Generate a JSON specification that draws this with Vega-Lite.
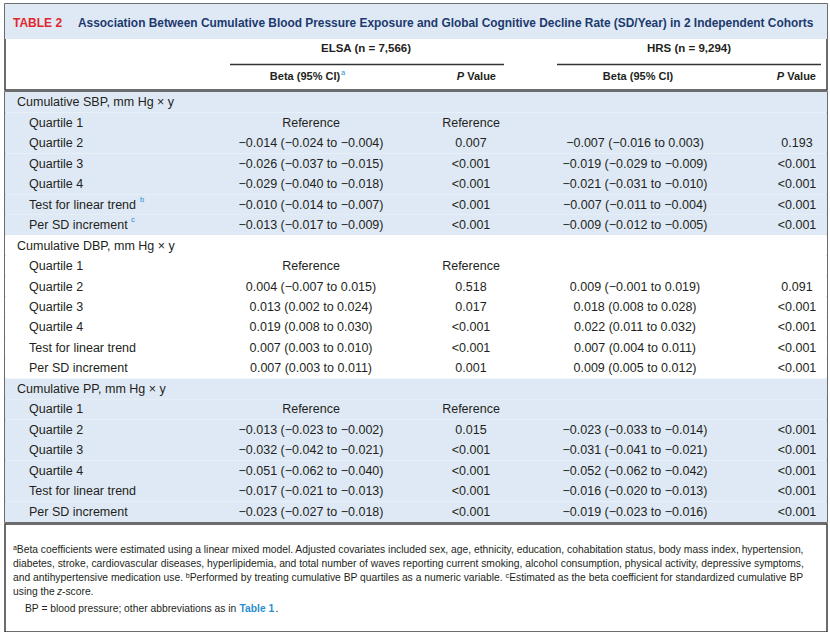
{
  "$schema": "https://vega.github.io/schema/vega-lite/v6.json",
  "background": "white",
  "padding": {"top": 3, "left": 4, "right": 4, "bottom": 5},
  "spacing": 0,
  "config": {
    "view": {"stroke": "#3c3c3c", "strokeWidth": 1.5},
    "axis": {"disable": true},
    "legend": {"disable": true},
    "concat": {"spacing": 0},
    "text": {"font": "Liberation Sans", "fontSize": 12.5, "baseline": "middle", "color": "#231f20"}
  },
  "datasets": {
    "rows": [
      {"row": 0, "section": "SBP", "kind": "head", "label": "Cumulative SBP, mm Hg × y", "eb": "", "ep": "", "hb": "", "hp": ""},
      {"row": 1, "section": "SBP", "kind": "item", "label": "Quartile 1", "eb": "Reference", "ep": "Reference", "hb": "", "hp": ""},
      {"row": 2, "section": "SBP", "kind": "item", "label": "Quartile 2", "eb": "−0.014 (−0.024 to −0.004)", "ep": "0.007", "hb": "−0.007 (−0.016 to 0.003)", "hp": "0.193"},
      {"row": 3, "section": "SBP", "kind": "item", "label": "Quartile 3", "eb": "−0.026 (−0.037 to −0.015)", "ep": "<0.001", "hb": "−0.019 (−0.029 to −0.009)", "hp": "<0.001"},
      {"row": 4, "section": "SBP", "kind": "item", "label": "Quartile 4", "eb": "−0.029 (−0.040 to −0.018)", "ep": "<0.001", "hb": "−0.021 (−0.031 to −0.010)", "hp": "<0.001"},
      {"row": 5, "section": "SBP", "kind": "item", "label": "Test for linear trend", "eb": "−0.010 (−0.014 to −0.007)", "ep": "<0.001", "hb": "−0.007 (−0.011 to −0.004)", "hp": "<0.001", "sup": "b"},
      {"row": 6, "section": "SBP", "kind": "item", "label": "Per SD increment", "eb": "−0.013 (−0.017 to −0.009)", "ep": "<0.001", "hb": "−0.009 (−0.012 to −0.005)", "hp": "<0.001", "sup": "c"},
      {"row": 7, "section": "DBP", "kind": "head", "label": "Cumulative DBP, mm Hg × y", "eb": "", "ep": "", "hb": "", "hp": ""},
      {"row": 8, "section": "DBP", "kind": "item", "label": "Quartile 1", "eb": "Reference", "ep": "Reference", "hb": "", "hp": ""},
      {"row": 9, "section": "DBP", "kind": "item", "label": "Quartile 2", "eb": "0.004 (−0.007 to 0.015)", "ep": "0.518", "hb": "0.009 (−0.001 to 0.019)", "hp": "0.091"},
      {"row": 10, "section": "DBP", "kind": "item", "label": "Quartile 3", "eb": "0.013 (0.002 to 0.024)", "ep": "0.017", "hb": "0.018 (0.008 to 0.028)", "hp": "<0.001"},
      {"row": 11, "section": "DBP", "kind": "item", "label": "Quartile 4", "eb": "0.019 (0.008 to 0.030)", "ep": "<0.001", "hb": "0.022 (0.011 to 0.032)", "hp": "<0.001"},
      {"row": 12, "section": "DBP", "kind": "item", "label": "Test for linear trend", "eb": "0.007 (0.003 to 0.010)", "ep": "<0.001", "hb": "0.007 (0.004 to 0.011)", "hp": "<0.001"},
      {"row": 13, "section": "DBP", "kind": "item", "label": "Per SD increment", "eb": "0.007 (0.003 to 0.011)", "ep": "0.001", "hb": "0.009 (0.005 to 0.012)", "hp": "<0.001"},
      {"row": 14, "section": "PP", "kind": "head", "label": "Cumulative PP, mm Hg × y", "eb": "", "ep": "", "hb": "", "hp": ""},
      {"row": 15, "section": "PP", "kind": "item", "label": "Quartile 1", "eb": "Reference", "ep": "Reference", "hb": "", "hp": ""},
      {"row": 16, "section": "PP", "kind": "item", "label": "Quartile 2", "eb": "−0.013 (−0.023 to −0.002)", "ep": "0.015", "hb": "−0.023 (−0.033 to −0.014)", "hp": "<0.001"},
      {"row": 17, "section": "PP", "kind": "item", "label": "Quartile 3", "eb": "−0.032 (−0.042 to −0.021)", "ep": "<0.001", "hb": "−0.031 (−0.041 to −0.021)", "hp": "<0.001"},
      {"row": 18, "section": "PP", "kind": "item", "label": "Quartile 4", "eb": "−0.051 (−0.062 to −0.040)", "ep": "<0.001", "hb": "−0.052 (−0.062 to −0.042)", "hp": "<0.001"},
      {"row": 19, "section": "PP", "kind": "item", "label": "Test for linear trend", "eb": "−0.017 (−0.021 to −0.013)", "ep": "<0.001", "hb": "−0.016 (−0.020 to −0.013)", "hp": "<0.001"},
      {"row": 20, "section": "PP", "kind": "item", "label": "Per SD increment", "eb": "−0.023 (−0.027 to −0.018)", "ep": "<0.001", "hb": "−0.019 (−0.023 to −0.016)", "hp": "<0.001"}
    ],
    "one": [{}]
  },
  "vconcat": [
    {
      "width": 822,
      "height": 86,
      "data": {"name": "one"},
      "layer": [
        {"mark": {"type": "rect", "fill": "#dfe9f5", "strokeWidth": 0},
         "encoding": {
           "x": {"datum": 0, "type": "quantitative", "scale": {"domain": [0, 822], "nice": false, "zero": false}},
           "x2": {"datum": 822},
           "y": {"datum": 0, "type": "quantitative", "scale": {"domain": [0, 86], "nice": false, "zero": false, "reverse": true}},
           "y2": {"datum": 35}}},
        {"mark": {"type": "text", "text": "TABLE 2", "align": "left", "fontWeight": "bold", "fontSize": 12, "color": "#e3262d"},
         "encoding": {"x": {"datum": 8, "type": "quantitative"}, "y": {"datum": 19, "type": "quantitative"}}},
        {"mark": {"type": "text", "text": "Association Between Cumulative Blood Pressure Exposure and Global Cognitive Decline Rate (SD/Year) in 2 Independent Cohorts", "align": "left", "fontWeight": "bold", "fontSize": 11.9, "color": "#1c3a6e"},
         "encoding": {"x": {"datum": 73, "type": "quantitative"}, "y": {"datum": 19, "type": "quantitative"}}},
        {"mark": {"type": "text", "text": "ELSA (n = 7,566)", "align": "center", "fontWeight": "bold", "fontSize": 11.5},
         "encoding": {"x": {"datum": 361, "type": "quantitative"}, "y": {"datum": 45, "type": "quantitative"}}},
        {"mark": {"type": "text", "text": "HRS (n = 9,294)", "align": "center", "fontWeight": "bold", "fontSize": 11.5},
         "encoding": {"x": {"datum": 684, "type": "quantitative"}, "y": {"datum": 45, "type": "quantitative"}}},
        {"mark": {"type": "rule", "color": "#333333", "strokeWidth": 1.5},
         "encoding": {"x": {"datum": 225, "type": "quantitative"}, "x2": {"datum": 499}, "y": {"datum": 60.5, "type": "quantitative"}}},
        {"mark": {"type": "rule", "color": "#333333", "strokeWidth": 1.5},
         "encoding": {"x": {"datum": 552, "type": "quantitative"}, "x2": {"datum": 816}, "y": {"datum": 60.5, "type": "quantitative"}}},
        {"mark": {"type": "text", "text": "Beta (95% CI)", "align": "center", "fontWeight": "bold", "fontSize": 11},
         "encoding": {"x": {"datum": 300, "type": "quantitative"}, "y": {"datum": 73, "type": "quantitative"}}},
        {"mark": {"type": "text", "text": "a", "align": "left", "fontSize": 7.5, "color": "#2a8fcf"},
         "encoding": {"x": {"datum": 336, "type": "quantitative"}, "y": {"datum": 69, "type": "quantitative"}}},
        {"mark": {"type": "text", "text": "Value", "align": "right", "fontWeight": "bold", "fontSize": 11},
         "encoding": {"x": {"datum": 491, "type": "quantitative"}, "y": {"datum": 73, "type": "quantitative"}}},
        {"mark": {"type": "text", "text": "P", "align": "right", "fontWeight": "bold", "fontStyle": "italic", "fontSize": 11},
         "encoding": {"x": {"datum": 459, "type": "quantitative"}, "y": {"datum": 73, "type": "quantitative"}}},
        {"mark": {"type": "text", "text": "Beta (95% CI)", "align": "center", "fontWeight": "bold", "fontSize": 11},
         "encoding": {"x": {"datum": 633, "type": "quantitative"}, "y": {"datum": 73, "type": "quantitative"}}},
        {"mark": {"type": "text", "text": "Value", "align": "right", "fontWeight": "bold", "fontSize": 11},
         "encoding": {"x": {"datum": 811, "type": "quantitative"}, "y": {"datum": 73, "type": "quantitative"}}},
        {"mark": {"type": "text", "text": "P", "align": "right", "fontWeight": "bold", "fontStyle": "italic", "fontSize": 11},
         "encoding": {"x": {"datum": 779, "type": "quantitative"}, "y": {"datum": 73, "type": "quantitative"}}}
      ]
    },
    {
      "width": 822,
      "height": 430,
      "data": {"name": "rows"},
      "encoding": {
        "y": {"field": "row", "type": "ordinal", "scale": {"domain": [0,1,2,3,4,5,6,7,8,9,10,11,12,13,14,15,16,17,18,19,20], "paddingInner": 0, "paddingOuter": 0}}
      },
      "layer": [
        {"mark": {"type": "rect", "strokeWidth": 0},
         "encoding": {
           "x": {"datum": 0, "type": "quantitative", "scale": {"domain": [0, 822], "nice": false, "zero": false}},
           "x2": {"datum": 822},
           "fill": {"field": "section", "type": "nominal", "scale": {"domain": ["SBP", "DBP", "PP"], "range": ["#dfe9f5", "#ffffff", "#dfe9f5"]}}}},
        {"transform": [{"filter": "datum.kind == 'head'"}],
         "mark": {"type": "text", "align": "left"},
         "encoding": {"x": {"datum": 12, "type": "quantitative"}, "text": {"field": "label"}}},
        {"transform": [{"filter": "datum.kind == 'item'"}],
         "mark": {"type": "text", "align": "left"},
         "encoding": {"x": {"datum": 24, "type": "quantitative"}, "text": {"field": "label"}}},
        {"transform": [{"filter": "datum.row == 5"}],
         "mark": {"type": "text", "align": "left", "fontSize": 7.5, "dy": -5, "color": "#2a8fcf"},
         "encoding": {"x": {"datum": 135, "type": "quantitative"}, "text": {"field": "sup"}}},
        {"transform": [{"filter": "datum.row == 6"}],
         "mark": {"type": "text", "align": "left", "fontSize": 7.5, "dy": -5, "color": "#2a8fcf"},
         "encoding": {"x": {"datum": 126, "type": "quantitative"}, "text": {"field": "sup"}}},
        {"mark": {"type": "text", "align": "center"},
         "encoding": {"x": {"datum": 306, "type": "quantitative"}, "text": {"field": "eb"}}},
        {"mark": {"type": "text", "align": "center"},
         "encoding": {"x": {"datum": 466, "type": "quantitative"}, "text": {"field": "ep"}}},
        {"mark": {"type": "text", "align": "center"},
         "encoding": {"x": {"datum": 630, "type": "quantitative"}, "text": {"field": "hb"}}},
        {"mark": {"type": "text", "align": "center"},
         "encoding": {"x": {"datum": 792, "type": "quantitative"}, "text": {"field": "hp"}}}
      ]
    },
    {
      "width": 822,
      "height": 108,
      "data": {"name": "one"},
      "encoding": {
        "y": {"type": "quantitative", "scale": {"domain": [0, 108], "nice": false, "zero": false, "reverse": true}}
      },
      "layer": [
        {"mark": {"type": "text", "align": "left", "fontSize": 10.3, "text": "ᵃBeta coefficients were estimated using a linear mixed model. Adjusted covariates included sex, age, ethnicity, education, cohabitation status, body mass index, hypertension,"},
         "encoding": {"x": {"datum": 8, "type": "quantitative", "scale": {"domain": [0, 822], "nice": false, "zero": false}}, "y": {"datum": 26, "type": "quantitative"}}},
        {"mark": {"type": "text", "align": "left", "fontSize": 10.3, "text": "diabetes, stroke, cardiovascular diseases, hyperlipidemia, and total number of waves reporting current smoking, alcohol consumption, physical activity, depressive symptoms,"},
         "encoding": {"x": {"datum": 8, "type": "quantitative"}, "y": {"datum": 40, "type": "quantitative"}}},
        {"mark": {"type": "text", "align": "left", "fontSize": 10.3, "text": "and antihypertensive medication use. ᵇPerformed by treating cumulative BP quartiles as a numeric variable. ᶜEstimated as the beta coefficient for standardized cumulative BP"},
         "encoding": {"x": {"datum": 8, "type": "quantitative"}, "y": {"datum": 54, "type": "quantitative"}}},
        {"mark": {"type": "text", "align": "left", "fontSize": 10.3, "text": "using the"},
         "encoding": {"x": {"datum": 8, "type": "quantitative"}, "y": {"datum": 68, "type": "quantitative"}}},
        {"mark": {"type": "text", "align": "left", "fontSize": 10.3, "fontStyle": "italic", "text": "z"},
         "encoding": {"x": {"datum": 52, "type": "quantitative"}, "y": {"datum": 68, "type": "quantitative"}}},
        {"mark": {"type": "text", "align": "left", "fontSize": 10.3, "text": "-score."},
         "encoding": {"x": {"datum": 57, "type": "quantitative"}, "y": {"datum": 68, "type": "quantitative"}}},
        {"mark": {"type": "text", "align": "left", "fontSize": 10.3, "text": "BP = blood pressure; other abbreviations as in"},
         "encoding": {"x": {"datum": 20, "type": "quantitative"}, "y": {"datum": 85, "type": "quantitative"}}},
        {"mark": {"type": "text", "align": "left", "fontSize": 10.3, "fontWeight": "bold", "color": "#2a8fcf", "text": "Table 1"},
         "encoding": {"x": {"datum": 234.5, "type": "quantitative"}, "y": {"datum": 85, "type": "quantitative"}}},
        {"mark": {"type": "text", "align": "left", "fontSize": 10.3, "text": "."},
         "encoding": {"x": {"datum": 270.5, "type": "quantitative"}, "y": {"datum": 85, "type": "quantitative"}}}
      ]
    }
  ]
}
